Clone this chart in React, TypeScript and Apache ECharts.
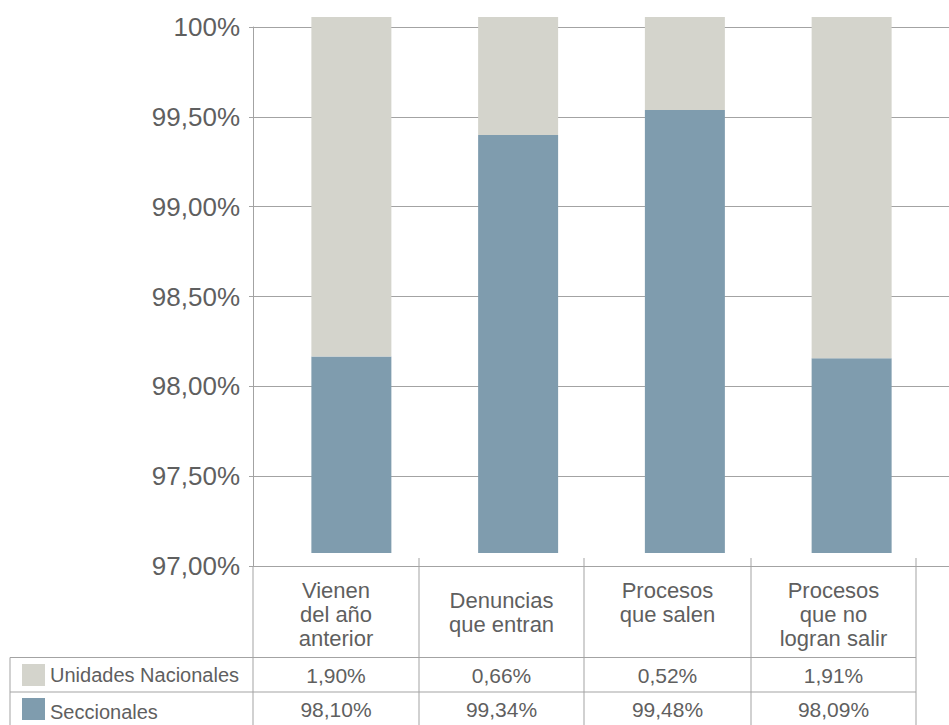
import React, { useEffect, useRef } from "react";
import * as echarts from "echarts";

const categories = ["Vienen\ndel año\nanterior", "Denuncias\nque entran", "Procesos\nque salen", "Procesos\nque no\nlogran salir"];
const seriesNames = ["Unidades Nacionales", "Seccionales"];
const unidadesNacionales = [1.9, 0.66, 0.52, 1.91];
const seccionales = [98.1, 99.34, 99.48, 98.09];
const yTickValues = [97, 97.5, 98, 98.5, 99, 99.5, 100];
const yTickLabels = ["97,00%", "97,50%", "98,00%", "98,50%", "99,00%", "99,50%", "100%"];

const colors = { unidades: "#d4d4cc", seccionales: "#7f9cae" };
const FONT = "'Liberation Sans', Arial, Helvetica, sans-serif";
const TEXT = "#5f5f5f";
const LINE = "#a3a3a3";

const fmt = (v: number) => v.toFixed(2).replace(".", ",") + "%";

export default function App() {
  const ref = useRef<HTMLDivElement>(null);
  useEffect(() => {
    if (!ref.current) return;
    const chart = echarts.init(ref.current, undefined, { renderer: "svg" });

    // table geometry (layout only)
    const colEdges = [253, 419, 584, 751, 916];
    const colCenters = colEdges.slice(0, 4).map((e, i) => (e + colEdges[i + 1]) / 2);
    const catTops = [578, 588, 578, 578];
    const rowCenters = [675, 709];
    const rowLines = [657.5, 692];

    const graphics: any[] = [];
    rowLines.forEach((y) =>
      graphics.push({ type: "line", shape: { x1: 10, y1: y, x2: 916, y2: y }, style: { stroke: LINE, lineWidth: 1 }, silent: true })
    );
    graphics.push({ type: "line", shape: { x1: 10, y1: 657.5, x2: 10, y2: 725 }, style: { stroke: LINE, lineWidth: 1 } });
    graphics.push({ type: "line", shape: { x1: 253, y1: 566, x2: 253, y2: 725 }, style: { stroke: LINE, lineWidth: 1 } });
    colEdges.slice(1).forEach((x) =>
      graphics.push({ type: "line", shape: { x1: x, y1: 558, x2: x, y2: 725 }, style: { stroke: LINE, lineWidth: 1 } })
    );
    categories.forEach((c, i) =>
      graphics.push({
        type: "text",
        x: colCenters[i],
        y: catTops[i],
        style: { text: c, fill: TEXT, fontSize: 22, fontFamily: FONT, align: "center", verticalAlign: "top", lineHeight: 24 },
      })
    );
    const swatchColors = [colors.unidades, colors.seccionales];
    seriesNames.forEach((n, r) => {
      graphics.push({ type: "rect", shape: { x: 22, y: rowCenters[r] - 11, width: 23, height: 22 }, style: { fill: swatchColors[r] } });
      graphics.push({
        type: "text",
        x: 50,
        y: rowCenters[r] + (r === 1 ? 3 : 0),
        style: { text: n, fill: TEXT, fontSize: 20, fontFamily: FONT, align: "left", verticalAlign: "middle" },
      });
    });
    [unidadesNacionales, seccionales].forEach((arr, r) =>
      arr.forEach((v, i) =>
        graphics.push({
          type: "text",
          x: colCenters[i],
          y: rowCenters[r],
          style: { text: fmt(v), fill: TEXT, fontSize: 21, fontFamily: FONT, align: "center", verticalAlign: "middle" },
        })
      )
    );

    chart.setOption({
      animation: false,
      backgroundColor: "#ffffff",
      grid: [
        { left: 253, right: 0, top: 27, bottom: 159 },
        { left: 268, right: 14, top: 17, bottom: 172 },
      ],
      xAxis: [
        {
          type: "category",
          gridIndex: 0,
          data: categories,
          axisLine: { show: true, lineStyle: { color: LINE, width: 1 } },
          axisTick: { show: false },
          axisLabel: { show: false },
        },
        {
          type: "category",
          gridIndex: 1,
          data: categories,
          show: false,
        },
      ],
      yAxis: [
        {
          type: "value",
          gridIndex: 0,
          min: 97,
          max: 100,
          interval: 0.5,
          axisLine: { show: true, lineStyle: { color: LINE, width: 1 } },
          axisTick: { show: true, length: 4, lineStyle: { color: LINE } },
          splitLine: { show: true, lineStyle: { color: LINE, width: 1 } },
          axisLabel: {
            margin: 13,
            color: TEXT,
            fontSize: 26,
            fontFamily: FONT,
            formatter: (v: number) => {
              const idx = yTickValues.findIndex((t) => Math.abs(t - v) < 1e-6);
              return idx >= 0 ? yTickLabels[idx] : "";
            },
          },
        },
        {
          type: "value",
          gridIndex: 1,
          min: 97,
          max: 100,
          show: false,
          splitLine: { show: false },
        },
      ],
      series: [
        {
          name: seriesNames[1],
          type: "bar",
          stack: "total",
          xAxisIndex: 1,
          yAxisIndex: 1,
          barWidth: 80,
          data: seccionales,
          itemStyle: { color: colors.seccionales },
          clip: true,
        },
        {
          name: seriesNames[0],
          type: "bar",
          stack: "total",
          xAxisIndex: 1,
          yAxisIndex: 1,
          barWidth: 80,
          data: unidadesNacionales,
          itemStyle: { color: colors.unidades },
          clip: true,
        },
      ],
      graphic: graphics,
    });
    return () => chart.dispose();
  }, []);
  return <div ref={ref} style={{ position: "absolute", left: 0, top: 0, width: 949, height: 725 }} />;
}
